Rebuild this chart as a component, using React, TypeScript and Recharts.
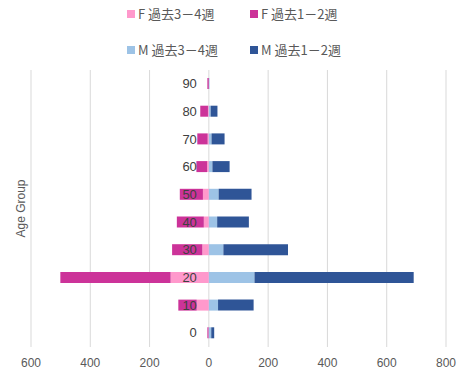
import React from 'react';
import {
  BarChart,
  Bar,
  XAxis,
  YAxis,
  CartesianGrid,
  Legend,
  LabelList,
} from 'recharts';

const ageGroups = ['0', '10', '20', '30', '40', '50', '60', '70', '80', '90'];
const femaleWeeks34 = [1, 41, 129, 22, 17, 20, 6, 4, 3, 0];
const femaleWeeks12 = [4, 62, 372, 102, 91, 78, 36, 35, 26, 5];
const maleWeeks34 = [8, 31, 154, 49, 28, 33, 12, 9, 6, 2];
const maleWeeks12 = [10, 120, 537, 218, 107, 111, 58, 44, 23, 0];
const xTicks = [-600, -400, -200, 0, 200, 400, 600, 800];

const seriesNames = ['F 過去3－4週', 'F 過去1－2週', 'M 過去3－4週', 'M 過去1－2週'];
const colors = ['#FF99CC', '#CC3399', '#9DC3E6', '#2F5597'];

// females go left of zero, so store them as negatives for the chart
const data = ageGroups.map((age, i) => ({
  age,
  f34: -femaleWeeks34[i],
  f12: -femaleWeeks12[i],
  m34: maleWeeks34[i],
  m12: maleWeeks12[i],
}));

const FONT = '"Liberation Sans", "Noto Sans CJK JP", sans-serif';

// recharts sorts legend entries, so draw them in series order ourselves
const LegendGrid = () => (
  <div
    style={{
      display: 'grid',
      gridTemplateColumns: '123px 120px',
      rowGap: 18,
      paddingLeft: 127,
      paddingTop: 5,
      fontFamily: '"Noto Sans CJK JP", sans-serif',
      fontSize: 13,
      color: '#595959',
    }}
  >
    {seriesNames.map((name, i) => (
      <div key={name} style={{ display: 'flex', alignItems: 'center', lineHeight: '18px' }}>
        <span style={{ width: 8, height: 8, background: colors[i], marginRight: 3, display: 'inline-block' }} />
        <span>{name}</span>
      </div>
    ))}
  </div>
);

export default function App() {
  return (
    <div style={{ position: 'absolute', left: 0, top: 0, width: 462, height: 380, background: '#fff' }}>
      <BarChart
        width={462}
        height={380}
        data={data}
        layout="vertical"
        stackOffset="sign"
        barSize={11}
        margin={{ top: 0, right: 16, bottom: 0, left: 0 }}
      >
        <CartesianGrid horizontal={false} stroke="#D9D9D9" />
        <XAxis
          type="number"
          domain={[-600, 800]}
          ticks={xTicks}
          tickFormatter={(v: number) => String(Math.abs(v))}
          axisLine={false}
          tickLine={false}
          tickMargin={5}
          height={33}
          tick={{ fill: '#595959', fontSize: 12, fontFamily: FONT }}
        />
        <YAxis
          type="category"
          dataKey="age"
          reversed
          width={31}
          axisLine={false}
          tickLine={false}
          tick={false}
          label={{
            value: 'Age Group',
            angle: -90,
            position: 'insideLeft',
            dx: 16,
            fill: '#595959',
            fontSize: 12,
            fontFamily: FONT,
            style: { textAnchor: 'middle' },
          }}
        />
        <Legend verticalAlign="top" height={70} content={<LegendGrid />} />
        <Bar dataKey="f34" name={seriesNames[0]} stackId="a" fill={colors[0]} isAnimationActive={false} />
        <Bar dataKey="f12" name={seriesNames[1]} stackId="a" fill={colors[1]} isAnimationActive={false} />
        <Bar dataKey="m34" name={seriesNames[2]} stackId="a" fill={colors[2]} isAnimationActive={false}>
          <LabelList
            dataKey="age"
            position="left"
            offset={12}
            fill="#404040"
            fontSize={13}
            fontFamily={FONT}
          />
        </Bar>
        <Bar dataKey="m12" name={seriesNames[3]} stackId="a" fill={colors[3]} isAnimationActive={false} />
      </BarChart>
    </div>
  );
}
